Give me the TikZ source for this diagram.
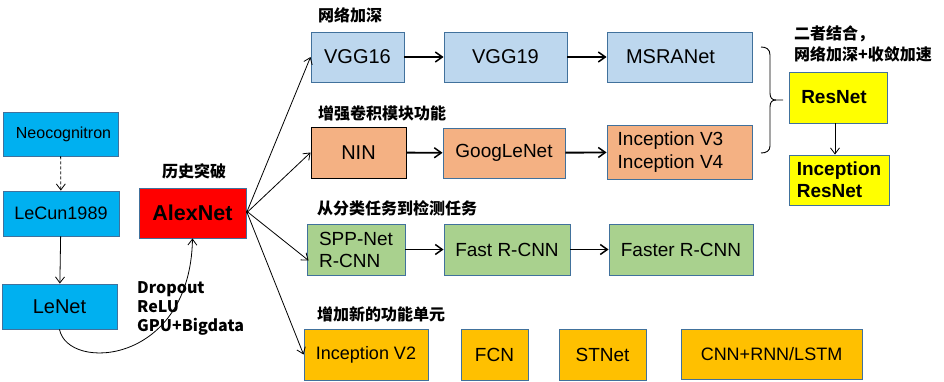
\documentclass[tikz,border=0pt]{standalone}
\usepackage{fontspec}
\setmainfont{Liberation Sans}
\newfontfamily\cjk{Noto Sans CJK SC}
\usetikzlibrary{arrows.meta,calc}
\definecolor{bordc}{HTML}{41719C}
\definecolor{cyanb}{HTML}{00B0F0}
\definecolor{lblue}{HTML}{BDD7EE}
\definecolor{lorange}{HTML}{F4B183}
\definecolor{lgreen}{HTML}{A9D18E}
\definecolor{gold}{HTML}{FFC000}
\definecolor{yel}{HTML}{FFFF00}
\tikzset{
  box/.style={draw=bordc, line width=0.9pt, inner sep=0pt, align=center},
  fs/.style args={#1/#2}{font=\fontsize{#1}{#2}\selectfont},
  thick arrow/.style={line width=1.9pt, -{Straight Barb[length=7pt,width=10pt,line width=1.5pt]}},
  thin arrow/.style={line width=0.8pt, -{Straight Barb[length=6pt,width=9pt]}},
  lab/.style={anchor=west, inner sep=0pt, font=\cjk\bfseries\fontsize{16}{19}\selectfont}
}
\begin{document}
\begin{tikzpicture}[x=1pt,y=-1pt]
\useasboundingbox (0,0) rectangle (944,381);
% left column
\node[box, fill=cyanb, minimum width=115pt, minimum height=44pt, fs=16/19] (neo) at (60.5,134) {\hspace*{6pt}Neocognitron};
\node[box, fill=cyanb, minimum width=116pt, minimum height=45pt, fs=18/21] (lecun) at (61,213.5) {LeCun1989};
\node[box, fill=cyanb, minimum width=115pt, minimum height=45pt, fs=20/23] (lenet) at (59.5,306.5) {LeNet};
\node[box, fill=red, minimum width=107pt, minimum height=50pt, font=\bfseries\fontsize{21.5}{24}\selectfont] (alex) at (192.5,213) {AlexNet};
\node[inner sep=0pt, font=\cjk\bfseries\fontsize{16}{19}\selectfont] (hist) at (194,171) {历史突破};
\node[anchor=north west, inner sep=0pt, align=left, font=\cjk\bfseries\fontsize{16}{19}\selectfont] (drop) at (137,281) {Dropout\\ReLU\\GPU+Bigdata};
\draw[thin arrow, dashed, dash pattern=on 3pt off 2pt] (neo) -- (lecun);
\draw[thin arrow] (lecun) -- (lenet);
\draw[thin arrow] (lenet.south) .. controls (68,372) and (190,365) .. (alex.south);
% row 1
\node[lab] (l1) at (318,15) {网络加深};
\node[box, fill=lblue, minimum width=93pt, minimum height=50pt, fs=20/23] (vgg16) at (357.5,57) {VGG16};
\node[box, fill=lblue, minimum width=123pt, minimum height=50pt, fs=20/23] (vgg19) at (505.5,57) {VGG19};
\node[box, fill=lblue, minimum width=145pt, minimum height=50pt, fs=20/23] (msra) at (679.5,57) {MSRANet\hspace*{18pt}};
\draw[thick arrow] (vgg16) -- (vgg19);
\draw[thick arrow] (vgg19) -- (msra);
% row 2
\node[lab] (l2) at (318,113) {增强卷积模块功能};
\node[box, draw=black, fill=lorange, minimum width=95pt, minimum height=51pt, fs=20/23] (nin) at (358.5,152.5) {NIN};
\node[box, fill=lorange, minimum width=122pt, minimum height=50pt, fs=19/22] (goog) at (504,153) {GoogLeNet};
\node[box, fill=lorange, minimum width=145pt, minimum height=54pt, fs=19/23, align=left] (inc34) at (679.5,152) {Inception V3\\Inception V4\hspace*{18pt}};
\draw[thick arrow] (nin) -- (goog);
\draw[thick arrow] (goog) -- (inc34);
% row 3
\node[lab] (l3) at (317,208) {从分类任务到检测任务};
\node[box, fill=lgreen, minimum width=98pt, minimum height=51pt, fs=19/22, align=left] (spp) at (356,249.5) {SPP-Net\\R-CNN};
\node[box, fill=lgreen, minimum width=126pt, minimum height=51pt, fs=19/22] (fast) at (507,249.5) {Fast R-CNN};
\node[box, fill=lgreen, minimum width=144pt, minimum height=51pt, fs=19/22] (faster) at (681,249.5) {Faster R-CNN};
\draw[thick arrow] (spp) -- (fast);
\draw[thick arrow] (fast) -- (faster);
% row 4
\node[lab] (l4) at (317,314) {增加新的功能单元};
\node[box, fill=gold, minimum width=124pt, minimum height=51pt, fs=18/21] (incv2) at (366,354.5) {Inception V2};
\node[box, fill=gold, minimum width=67pt, minimum height=51pt, fs=19/22] (fcn) at (494.5,354.5) {FCN};
\node[box, fill=gold, minimum width=87pt, minimum height=51pt, fs=19/22] (stnet) at (602.5,354.5) {STNet};
\node[box, fill=gold, minimum width=181pt, minimum height=50pt, fs=18/21] (cnnrnn) at (771.5,354) {CNN+RNN/LSTM};
% fan out
\draw[thin arrow] (alex.east) -- (vgg16.west);
\draw[thin arrow] (alex.east) -- (nin.west);
\draw[thin arrow] ($(alex.east)+(0,-2)$) -- ($(spp.west)+(2,11)$);
\draw[thin arrow] ($(alex.east)+(0,-2)$) -- (incv2.west);
% right side
\node[anchor=west, inner sep=0pt, align=left, font=\cjk\bfseries\fontsize{16}{21}\selectfont] (comb) at (794,44) {二者结合，\\网络加深+收敛加速};
\node[box, fill=yel, minimum width=98pt, minimum height=51pt, font=\bfseries\fontsize{19}{22}\selectfont] (res) at (838,97.5) {ResNet\hspace*{8pt}};
\node[box, fill=yel, minimum width=100pt, minimum height=50pt, align=left, font=\bfseries\fontsize{19}{22}\selectfont] (incres) at (839,180) {Inception\\ResNet};
\draw[thin arrow] (res.south -| 835,0) -- (incres.north -| 835,0);
\draw[line width=0.9pt] (761,47) .. controls (766,47) and (770,49) .. (770,55) -- (770,93)
  .. controls (770,98) and (772,100) .. (776,100) -- (783,100);
\draw[line width=0.9pt] (776,100) .. controls (772,100) and (770,102) .. (770,107) -- (770,146)
  .. controls (770,151) and (766,153) .. (761,153);
\end{tikzpicture}
\end{document}
